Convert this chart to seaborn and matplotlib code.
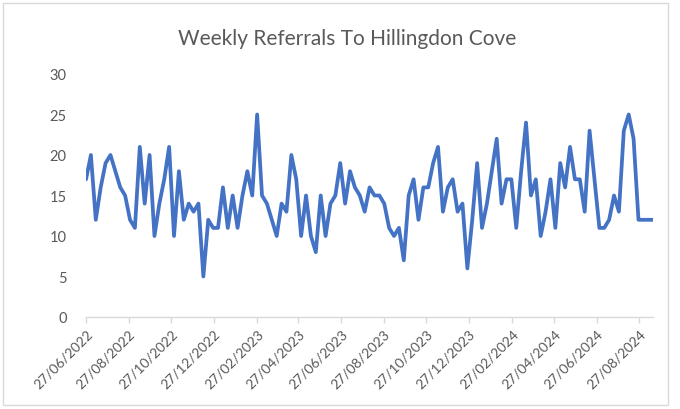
import matplotlib
matplotlib.use("Agg")
import matplotlib.pyplot as plt
import matplotlib.dates as mdates
from matplotlib.patches import Rectangle
import pandas as pd
import seaborn as sns

# weekly referral counts, first week starting 27/06/2022
start_date = "2022-06-27"
referrals = [
    17, 20, 12, 16, 19, 20, 18, 16, 15, 12, 11, 21, 14, 20, 10, 14, 17, 21, 10, 18,
    12, 14, 13, 14, 5, 12, 11, 11, 16, 11, 15, 11, 15, 18, 15, 25, 15, 14, 12, 10,
    14, 13, 20, 17, 10, 15, 10, 8, 15, 10, 14, 15, 19, 14, 18, 16, 15, 13, 16, 15,
    15, 14, 11, 10, 11, 7, 15, 17, 12, 16, 16, 19, 21, 13, 16, 17, 13, 14, 6, 12,
    19, 11, 14, 18, 22, 14, 17, 17, 11, 18, 24, 15, 17, 10, 13, 17, 11, 19, 16, 21,
    17, 17, 13, 23, 17, 11, 11, 12, 15, 13, 23, 25, 22, 12, 12, 12, 12,
]
title = "Weekly Referrals To Hillingdon Cove"
y_ticks = [0, 5, 10, 15, 20, 25, 30]
n_tick_labels = 14  # every 2 months from the start date

sns.set_theme(style="white")
plt.rcParams["font.family"] = ["Lato", "DejaVu Sans"]

df = pd.DataFrame({
    "week": pd.date_range(start_date, periods=len(referrals), freq="7D"),
    "referrals": referrals,
})

text_col = "#595959"
axis_col = "#d9d9d9"

fig = plt.figure(figsize=(6.8, 4.1), dpi=100)
ax = fig.add_axes([0.1265, 0.2244, 0.834, 0.5927])

sns.lineplot(data=df, x="week", y="referrals", ax=ax, color="#4472C4", linewidth=2.7)

ax.set_xlim(df.week.iloc[0], df.week.iloc[-1])
ax.set_ylim(0, 30)
ax.set_yticks(y_ticks)

tick_dates = [pd.Timestamp(start_date) + pd.DateOffset(months=2 * i) for i in range(n_tick_labels)]
ax.set_xticks(tick_dates)
ax.xaxis.set_major_formatter(mdates.DateFormatter("%d/%m/%Y"))
for lab in ax.get_xticklabels():
    lab.set_rotation(45)
    lab.set_ha("right")
    lab.set_rotation_mode("anchor")

ax.set_xlabel("")
ax.set_ylabel("")
ax.tick_params(axis="x", colors=axis_col, labelcolor=text_col, labelsize=10,
               length=4, width=1, direction="out", bottom=True, pad=3)
ax.tick_params(axis="y", labelcolor=text_col, labelsize=10.5, length=0, pad=14)

for side in ["top", "right", "left"]:
    ax.spines[side].set_visible(False)
ax.spines["bottom"].set_color(axis_col)
ax.spines["bottom"].set_linewidth(1)
ax.grid(False)

fig.text(0.51, 0.905, title, ha="center", va="center", fontsize=15, color=text_col)

# chart border
fig.patches.append(Rectangle((3 / 680, 4 / 410), 665 / 680, 402 / 410, transform=fig.transFigure,
                             fill=False, edgecolor=axis_col, linewidth=1))

fig.savefig("out.png", dpi=100)
